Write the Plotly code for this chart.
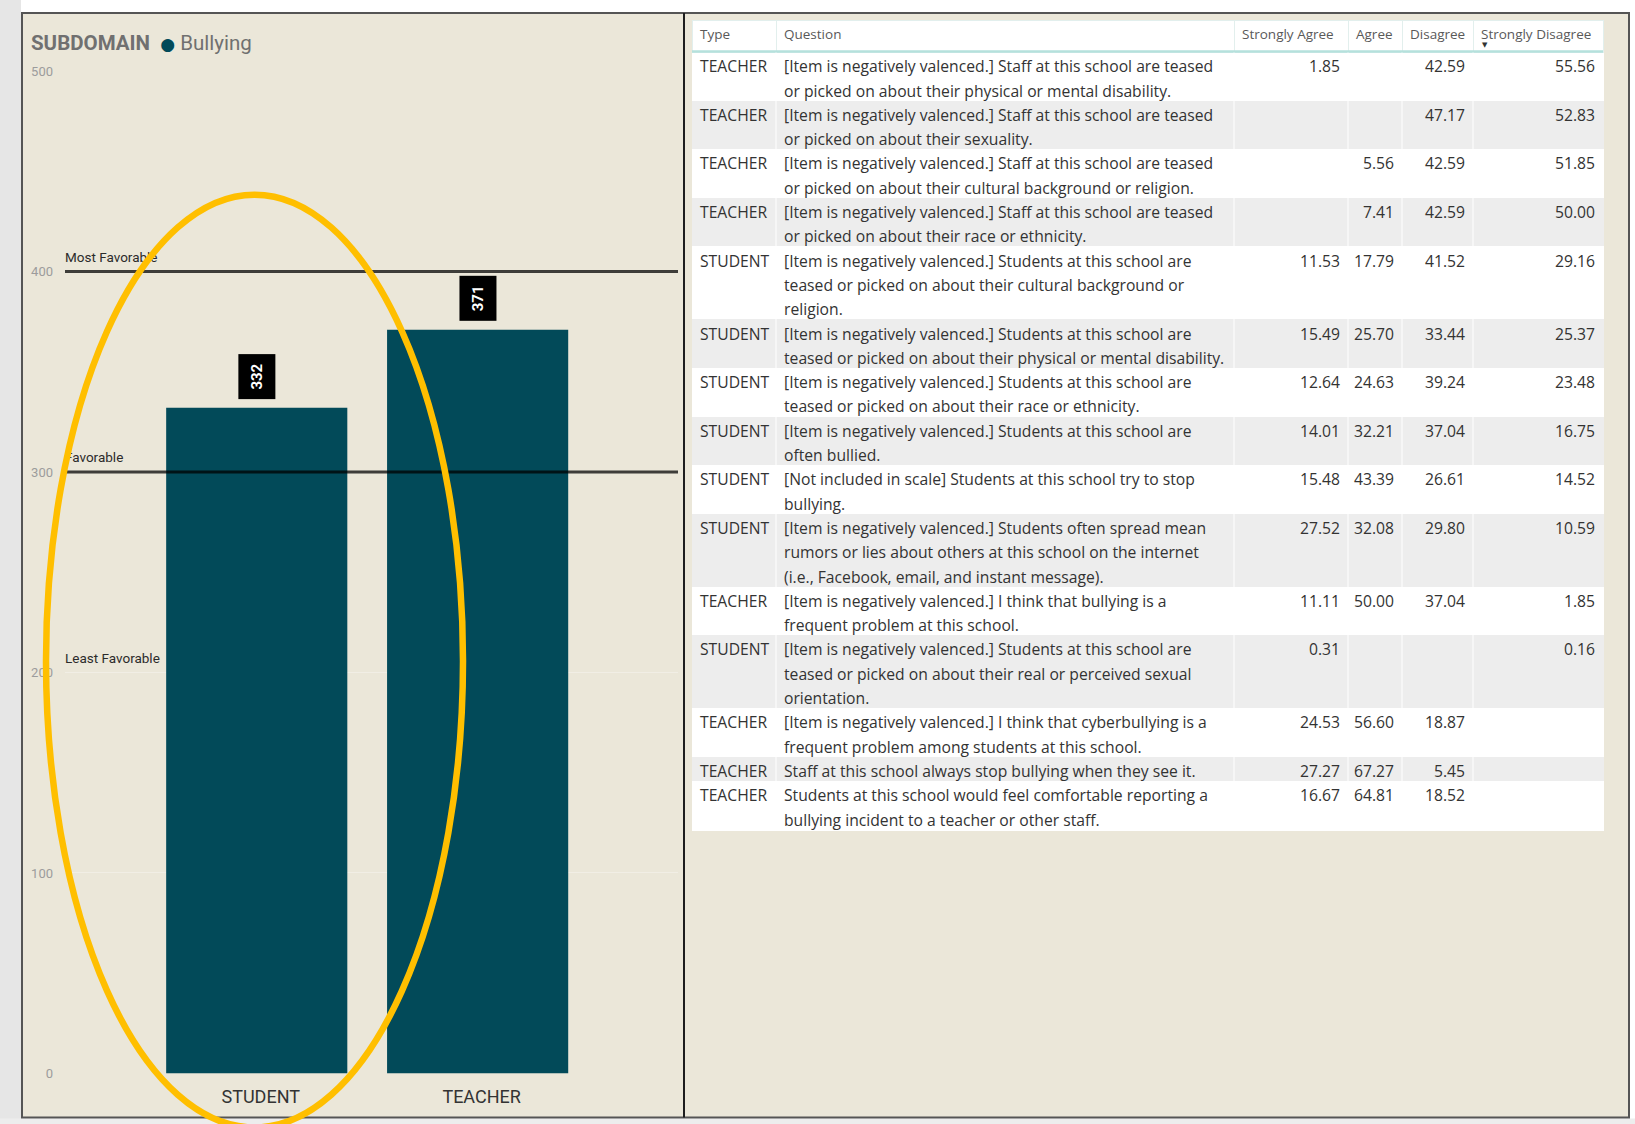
import textwrap
import plotly.graph_objects as go

# ---------------- subdomain score chart ----------------
respondent_types = ["STUDENT", "TEACHER"]
subdomain_scores = [332, 371]
subdomain_name = "Bullying"

benchmark_labels = ["Most Favorable", "Favorable", "Least Favorable"]
benchmark_values = [400, 300, 200]

y_ticks = [0, 100, 200, 300, 400, 500]

# ---------------- item-level response table ----------------
table_columns = ["Type", "Question", "Strongly Agree", "Agree", "Disagree", "Strongly Disagree"]

question_type = [
    "TEACHER", "TEACHER", "TEACHER", "TEACHER", "STUDENT", "STUDENT", "STUDENT", "STUDENT",
    "STUDENT", "STUDENT", "TEACHER", "STUDENT", "TEACHER", "TEACHER", "TEACHER",
]

question_text = [
    "[Item is negatively valenced.] Staff at this school are teased or picked on about their physical or mental disability.",
    "[Item is negatively valenced.] Staff at this school are teased or picked on about their sexuality.",
    "[Item is negatively valenced.] Staff at this school are teased or picked on about their cultural background or religion.",
    "[Item is negatively valenced.] Staff at this school are teased or picked on about their race or ethnicity.",
    "[Item is negatively valenced.] Students at this school are teased or picked on about their cultural background or religion.",
    "[Item is negatively valenced.] Students at this school are teased or picked on about their physical or mental disability.",
    "[Item is negatively valenced.] Students at this school are teased or picked on about their race or ethnicity.",
    "[Item is negatively valenced.] Students at this school are often bullied.",
    "[Not included in scale] Students at this school try to stop bullying.",
    "[Item is negatively valenced.] Students often spread mean rumors or lies about others at this school on the internet (i.e., Facebook, email, and instant message).",
    "[Item is negatively valenced.] I think that bullying is a frequent problem at this school.",
    "[Item is negatively valenced.] Students at this school are teased or picked on about their real or perceived sexual orientation.",
    "[Item is negatively valenced.] I think that cyberbullying is a frequent problem among students at this school.",
    "Staff at this school always stop bullying when they see it.",
    "Students at this school would feel comfortable reporting a bullying incident to a teacher or other staff.",
]

strongly_agree = [1.85, None, None, None, 11.53, 15.49, 12.64, 14.01, 15.48, 27.52, 11.11, 0.31, 24.53, 27.27, 16.67]
agree = [None, None, 5.56, 7.41, 17.79, 25.70, 24.63, 32.21, 43.39, 32.08, 50.00, None, 56.60, 67.27, 64.81]
disagree = [42.59, 47.17, 42.59, 42.59, 41.52, 33.44, 39.24, 37.04, 26.61, 29.80, 37.04, None, 18.87, 5.45, 18.52]
strongly_disagree = [55.56, 52.83, 51.85, 50.00, 29.16, 25.37, 23.48, 16.75, 14.52, 10.59, 1.85, 0.16, None, None, None]

# ---------------- page geometry / styling ----------------
W, H = 1635, 1124
# the drawing area sits inside the page's body margin
PAGE_TOP = 7.5
DRAW_H = 1108

BEIGE = "#EBE7D9"
BAR = "#024A59"
CHART_FONT = "Roboto, 'DejaVu Sans', sans-serif"
TABLE_FONT = "'Segoe UI', 'Open Sans', sans-serif"
NBSP = "\u00a0"

PLOT_X = (65, 678)          # plot area, px
PLOT_Y = (71.5, 1073)       # top (500) and bottom (0), px

TABLE_X = (692, 1603)
TABLE_TOP = 21
HEADER_H = 32
LINE_H = 24.3
COL_W = [84, 458, 114, 54, 71, 130]
WRAP_CHARS = 62


def px_x(x):
    return x / W


def px_y(y):
    return 1 - (y - PAGE_TOP) / DRAW_H


def fmt(v):
    return "" if v is None else f"{v:.2f}"


# one table row per printed line, so multi-line questions keep a tight leading
cell_cols = [[] for _ in table_columns]
row_fill = []
for i, q in enumerate(question_text):
    shade = "#FFFFFF" if i % 2 == 0 else "#EDEDED"
    for j, line in enumerate(textwrap.wrap(q, WRAP_CHARS)):
        first = j == 0
        cell_cols[0].append(question_type[i] if first else "")
        cell_cols[1].append(line.replace(" ", NBSP))
        cell_cols[2].append(fmt(strongly_agree[i]) if first else "")
        cell_cols[3].append(fmt(agree[i]) if first else "")
        cell_cols[4].append(fmt(disagree[i]) if first else "")
        cell_cols[5].append(fmt(strongly_disagree[i]) if first else "")
        row_fill.append(shade)

n_lines = len(row_fill)
table_bottom = TABLE_TOP + HEADER_H + n_lines * LINE_H

fig = go.Figure()

fig.add_trace(go.Bar(
    x=respondent_types,
    y=subdomain_scores,
    width=0.82,
    marker=dict(color=BAR, line=dict(width=0)),
    hoverinfo="x+y",
    showlegend=False,
))

# benchmark band labels sit just above their rule at the left edge of the plot
fig.add_trace(go.Scatter(
    x=[0] * len(benchmark_values),
    y=[v + 3.2 for v in benchmark_values],
    xaxis="x2", yaxis="y",
    text=benchmark_labels,
    mode="text",
    textposition="top right",
    textfont=dict(family=CHART_FONT, size=13.5, color="#2b2b2b"),
    cliponaxis=False,
    hoverinfo="skip",
    showlegend=False,
))

fig.add_trace(go.Table(
    domain=dict(x=[px_x(TABLE_X[0]), px_x(TABLE_X[1])], y=[0.0, px_y(TABLE_TOP)]),
    columnwidth=COL_W,
    header=dict(
        values=[c.replace(" ", NBSP) for c in table_columns],
        fill=dict(color="#FFFFFF"),
        line=dict(color="#E2EFED", width=1),
        height=HEADER_H,
        align="left",
        font=dict(family=TABLE_FONT, size=13.5, color="#595959"),
    ),
    cells=dict(
        values=cell_cols,
        fill=dict(color=[row_fill] * len(table_columns)),
        line=dict(color=[row_fill] * len(table_columns), width=1),
        height=LINE_H,
        align=["left", "left", "right", "right", "right", "right"],
        font=dict(family=TABLE_FONT, size=15.7, color="#333333"),
    ),
))

shapes = [
    # page chrome
    dict(type="rect", xref="paper", yref="paper", x0=0, x1=px_x(21), y0=px_y(1124), y1=px_y(0),
         fillcolor="#E6E6E6", line=dict(width=0), layer="below"),
    dict(type="rect", xref="paper", yref="paper", x0=0, x1=1, y0=px_y(1124), y1=px_y(1118),
         fillcolor="#EDEDED", line=dict(width=0), layer="below"),
    dict(type="rect", xref="paper", yref="paper", x0=px_x(22), x1=px_x(1629),
         y0=px_y(1117), y1=px_y(13.5), fillcolor=BEIGE,
         line=dict(color="#555555", width=2), layer="below"),
    dict(type="line", xref="paper", yref="paper", x0=px_x(684), x1=px_x(684),
         y0=px_y(1117), y1=px_y(13.5), line=dict(color="#1E1E1E", width=2), layer="below"),
]

# header underline and column separators of the table
shapes.append(dict(type="line", xref="paper", yref="paper",
                   x0=px_x(TABLE_X[0]), x1=px_x(TABLE_X[1]),
                   y0=px_y(TABLE_TOP + HEADER_H - 1), y1=px_y(TABLE_TOP + HEADER_H - 1),
                   line=dict(color="#B5E1DC", width=2.5), layer="above"))
edge = TABLE_X[0]
for w in COL_W[:-1]:
    edge += w
    shapes.append(dict(type="line", xref="paper", yref="paper", x0=px_x(edge), x1=px_x(edge),
                       y0=px_y(table_bottom), y1=px_y(TABLE_TOP + HEADER_H),
                       line=dict(color="#FFFFFF", width=1), layer="above"))

# benchmark rules (the lowest band is labelled only)
for v in benchmark_values[:-1]:
    shapes.append(dict(type="line", xref="x domain", yref="y", x0=0, x1=1, y0=v, y1=v,
                       line=dict(color="rgba(0,0,0,0.74)", width=3), layer="above"))

# highlight around the student column
shapes.append(dict(type="circle", xref="paper", yref="paper",
                   x0=px_x(46), x1=px_x(463), y0=px_y(1127), y1=px_y(195),
                   line=dict(color="#FFBF00", width=6.5), fillcolor="rgba(0,0,0,0)",
                   layer="above"))

annotations = [
    dict(xref="paper", yref="paper", x=px_x(29), y=px_y(43), xanchor="left", yanchor="middle",
         showarrow=False,
         text=("<b>SUBDOMAIN</b>  <span style='color:%s;font-size:17px'>●</span> %s"
               % (BAR, subdomain_name)),
         font=dict(family=CHART_FONT, size=20.5, color="#707070")),
]
for cat, val in zip(respondent_types, subdomain_scores):
    annotations.append(dict(
        x=cat, y=val, xref="x", yref="y", text=f"<b>{val}</b>", textangle=-90,
        showarrow=False, yanchor="bottom", yshift=8,
        bgcolor="#000000", borderpad=9,
        font=dict(family=CHART_FONT, size=15, color="#FFFFFF"),
    ))
# sort indicator under the sorted column header
annotations.append(dict(
    xref="paper", yref="paper", x=px_x(TABLE_X[0] + sum(COL_W[:5]) + 12), y=px_y(45),
    text="▼", showarrow=False, xanchor="center", yanchor="middle",
    font=dict(family="DejaVu Sans", size=7, color="#333333"),
))

fig.update_layout(
    width=W, height=H,
    margin=dict(l=0, r=0, t=0, b=0),
    autosize=False,
    paper_bgcolor="#FFFFFF",
    plot_bgcolor="rgba(0,0,0,0)",
    showlegend=False,
    xaxis=dict(
        domain=[px_x(PLOT_X[0]), px_x(PLOT_X[1])],
        range=[-0.868, 1.907],
        showgrid=False, zeroline=False, showline=False, ticks="",
        tickfont=dict(family=CHART_FONT, size=18, color="#333333"),
        ticklabelstandoff=11,
        ticklabelshift=4,
        fixedrange=True,
    ),
    xaxis2=dict(overlaying="x", range=[0, 1], visible=False, fixedrange=True),
    yaxis=dict(
        domain=[px_y(PLOT_Y[1]), px_y(PLOT_Y[0])],
        range=[0, 500],
        tickvals=y_ticks,
        showgrid=True, gridcolor="#F1EEE5", gridwidth=1,
        zeroline=False, showline=False, ticks="",
        tickfont=dict(family=CHART_FONT, size=13, color="#9C9C9C"),
        ticklabelstandoff=11,
        fixedrange=True,
    ),
    shapes=shapes,
    annotations=annotations,
)

fig.write_html("out.html")
